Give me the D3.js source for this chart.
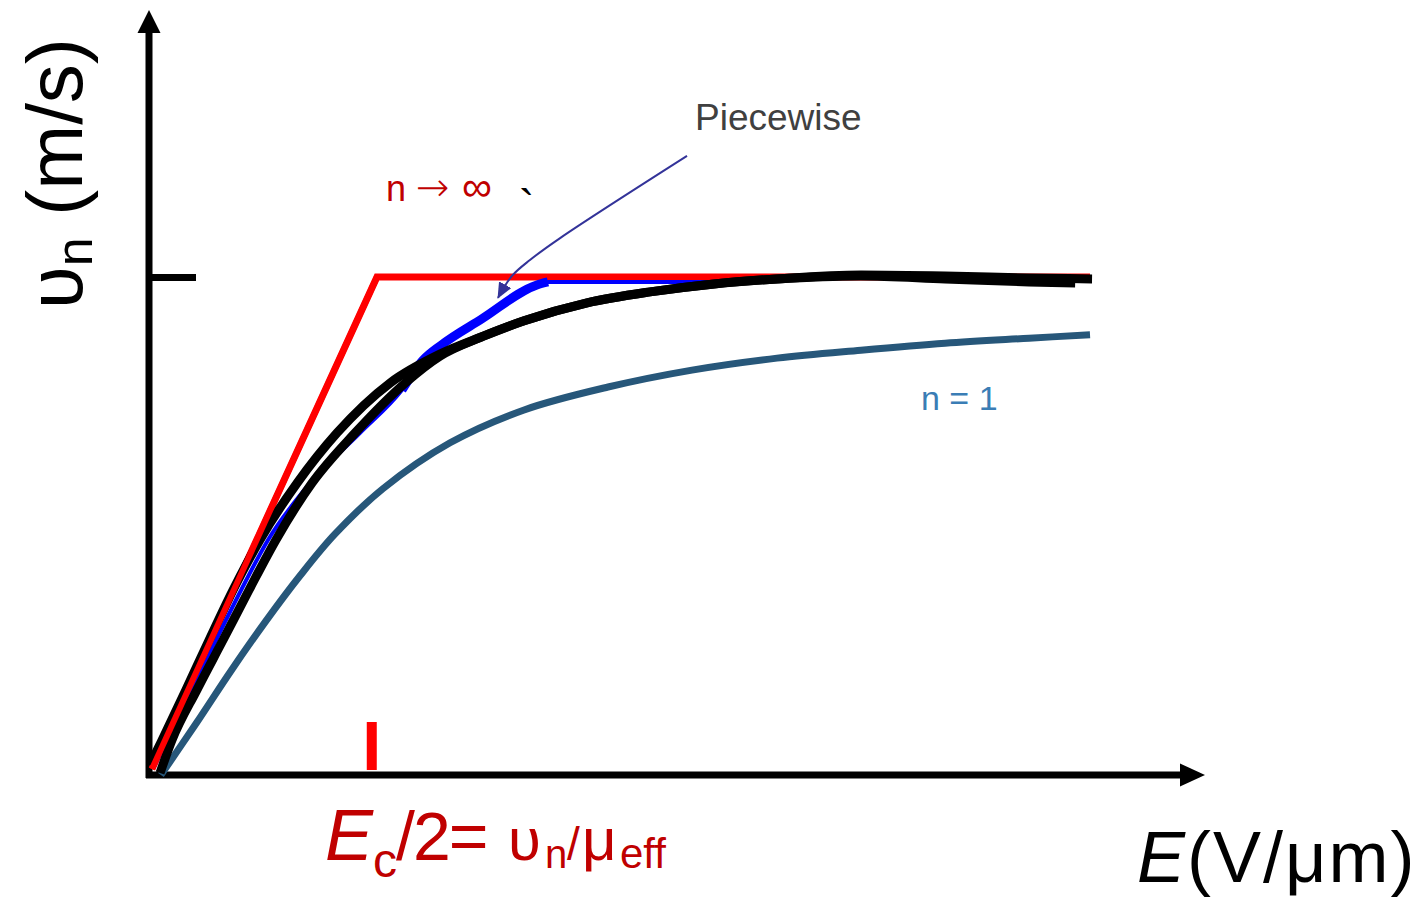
<!DOCTYPE html>
<html>
<head>
<meta charset="utf-8">
<script src="https://cdn.jsdelivr.net/npm/d3@7"></script>
<style>
  html, body { margin: 0; padding: 0; background: #ffffff; }
  svg { display: block; }
  text { font-family: "Liberation Sans", Arial, Helvetica, sans-serif; }
</style>
</head>
<body>
<svg id="chart" width="1422" height="905"></svg>
<script>
// Axis extents (E in units of Ec/2, velocity in units of v_sat)
const eMax = 4.693;
const vMax = 1.536;
const vSat = 1.0;
const ecHalf = 0.99;

// n -> infinity: linear rise, then flat at v_sat
const limitCurve = [[0.013, 0.012], [1.013, 1.0], [4.182, 1.0]];

// Piecewise model
const piecewiseCurve = [
  [0.018, 0.014], [0.080, 0.070], [0.191, 0.171], [0.298, 0.271], [0.409, 0.371],
  [0.529, 0.472], [0.716, 0.586], [0.938, 0.687], [1.124, 0.773], [1.218, 0.833],
  [1.298, 0.863], [1.480, 0.916], [1.724, 0.984], [1.773, 0.990], [2.716, 0.990]
];
const piecewiseBoldSpan = [1.08, 1.775];

// Two smooth saturation models drawn in black
const modelA = [
  [0.004, 0.020], [0.058, 0.070], [0.164, 0.171], [0.267, 0.271], [0.373, 0.371],
  [0.493, 0.472], [0.658, 0.586], [0.836, 0.687], [1.071, 0.787], [1.293, 0.845],
  [1.480, 0.880], [1.667, 0.912], [1.947, 0.948], [2.227, 0.970], [2.511, 0.986],
  [2.791, 0.996], [3.164, 1.002], [3.538, 0.996], [3.911, 0.990], [4.116, 0.988]
];
const modelB = [
  [0.049, 0.004], [0.102, 0.070], [0.213, 0.171], [0.329, 0.271], [0.444, 0.371],
  [0.564, 0.472], [0.724, 0.586], [0.916, 0.687], [1.138, 0.787], [1.293, 0.841],
  [1.480, 0.880], [1.667, 0.912], [1.947, 0.948], [2.227, 0.970], [2.511, 0.986],
  [2.791, 0.996], [3.164, 1.004], [3.538, 1.002], [3.911, 0.998], [4.191, 0.996]
];

// n = 1
const modelN1 = [
  [0.053, 0.000], [0.213, 0.106], [0.364, 0.209], [0.516, 0.307], [0.671, 0.400],
  [0.827, 0.484], [1.040, 0.575], [1.338, 0.667], [1.667, 0.733], [2.040, 0.779],
  [2.413, 0.813], [2.791, 0.837], [3.164, 0.853], [3.538, 0.867], [3.911, 0.877],
  [4.182, 0.884]
];

// Callout leader for the "Piecewise" label
const calloutPath = [[2.391, 1.243], [1.827, 1.078], [1.693, 1.034], [1.613, 1.002], [1.551, 0.958]];

const svg = d3.select("#chart");
const x = d3.scaleLinear().domain([0, eMax]).range([149, 1205]);
const y = d3.scaleLinear().domain([0, vMax]).range([775, 10]);

const smooth = d3.line().x(d => x(d[0])).y(d => y(d[1])).curve(d3.curveMonotoneX);
const rounded = d3.line().x(d => x(d[0])).y(d => y(d[1])).curve(d3.curveCatmullRom.alpha(0.5));
const straight = d3.line().x(d => x(d[0])).y(d => y(d[1]));

// ---- axes ----
const axes = svg.append("g");
axes.append("line")
  .attr("x1", x(0)).attr("x2", x(0))
  .attr("y1", y(0) + 3).attr("y2", y(vMax) + 22)
  .attr("stroke", "#000").attr("stroke-width", 7);
axes.append("path")
  .attr("d", `M${x(0)},${y(vMax)} L${x(0) - 11.5},${y(vMax) + 23} L${x(0) + 11.5},${y(vMax) + 23} Z`)
  .attr("fill", "#000");
axes.append("line")
  .attr("x1", x(0) - 3).attr("x2", x(eMax) - 22)
  .attr("y1", y(0)).attr("y2", y(0))
  .attr("stroke", "#000").attr("stroke-width", 7);
axes.append("path")
  .attr("d", `M${x(eMax)},${y(0)} L${x(eMax) - 25},${y(0) - 11.5} L${x(eMax) - 25},${y(0) + 11.5} Z`)
  .attr("fill", "#000");

// v_sat tick on the vertical axis
const yTick = d3.axisLeft(y).tickValues([vSat]).tickSize(-47).tickSizeOuter(0).tickFormat("");
const yTickG = svg.append("g").attr("transform", `translate(${x(0)},0)`).call(yTick);
yTickG.select(".domain").remove();
yTickG.selectAll(".tick line").attr("stroke", "#000").attr("stroke-width", 7);

// Ec/2 marker on the field axis
svg.append("line")
  .attr("x1", x(ecHalf)).attr("x2", x(ecHalf))
  .attr("y1", y(0) - 5).attr("y2", y(0) - 53)
  .attr("stroke", "#ff0000").attr("stroke-width", 10);

// ---- curves ----
svg.append("path").datum(modelN1).attr("d", rounded)
  .attr("fill", "none").attr("stroke", "#27577a").attr("stroke-width", 7);

svg.append("path").datum(limitCurve).attr("d", straight)
  .attr("fill", "none").attr("stroke", "#ff0000").attr("stroke-width", 7)
  .attr("stroke-linejoin", "miter");

svg.append("path").datum(piecewiseCurve).attr("d", smooth)
  .attr("fill", "none").attr("stroke", "#0000ff").attr("stroke-width", 4);
svg.append("path")
  .datum(piecewiseCurve.filter(d => d[0] >= piecewiseBoldSpan[0] && d[0] <= piecewiseBoldSpan[1]))
  .attr("d", smooth)
  .attr("fill", "none").attr("stroke", "#0000ff").attr("stroke-width", 9);

svg.append("path").datum(modelA).attr("d", smooth)
  .attr("fill", "none").attr("stroke", "#000").attr("stroke-width", 9);
svg.append("path").datum(modelB).attr("d", smooth)
  .attr("fill", "none").attr("stroke", "#000").attr("stroke-width", 9);

// rising edge of the n -> infinity limit stays in front near the origin
svg.append("path").datum(limitCurve.slice(0, 2)).attr("d", straight)
  .attr("fill", "none").attr("stroke", "#ff0000").attr("stroke-width", 6);

// ---- callout ----
const defs = svg.append("defs");
defs.append("marker")
  .attr("id", "callout-head")
  .attr("markerUnits", "userSpaceOnUse")
  .attr("viewBox", "0 0 16 14")
  .attr("refX", 15).attr("refY", 7)
  .attr("markerWidth", 16).attr("markerHeight", 14)
  .attr("orient", "auto")
  .append("path").attr("d", "M0,0 L16,7 L0,14 Z").attr("fill", "#333399");

svg.append("path").datum(calloutPath)
  .attr("d", d3.line().x(d => x(d[0])).y(d => y(d[1])).curve(d3.curveCatmullRom))
  .attr("fill", "none").attr("stroke", "#333399").attr("stroke-width", 2)
  .attr("marker-end", "url(#callout-head)");

svg.append("text").attr("x", 695).attr("y", 130)
  .attr("font-size", 37).attr("fill", "#404040").text("Piecewise");

const limitLabel = svg.append("text").attr("y", 201).attr("fill", "#c00000").attr("font-size", 36);
limitLabel.append("tspan").attr("x", 386).text("n");
limitLabel.append("tspan").attr("x", 416).attr("font-family", "'DejaVu Sans', sans-serif")
  .attr("font-size", 40).attr("font-weight", 300).text("\u2192");
limitLabel.append("tspan").attr("x", 462).attr("font-size", 42).text("\u221E");
svg.append("text").attr("x", 519).attr("y", 222)
  .attr("font-size", 46).attr("fill", "#000").text("`");

svg.append("text").attr("x", 921).attr("y", 410)
  .attr("font-size", 34).attr("fill", "#3a7db5").text("n = 1");

// ---- axis titles ----
const yTitle = svg.append("text")
  .attr("transform", "translate(82,309) rotate(-90)")
  .attr("fill", "#000");
yTitle.append("tspan").attr("font-size", 78).text("\u03C5");
yTitle.append("tspan").attr("font-size", 52).attr("dy", 10).text("n");
yTitle.append("tspan").attr("font-size", 78).attr("dy", -10).text(" (m/s)");

const xTitle = svg.append("text").attr("x", 1137).attr("y", 882).attr("fill", "#000")
  .attr("font-size", 72).attr("letter-spacing", 2);
xTitle.append("tspan").attr("font-style", "italic").text("E");
xTitle.append("tspan").text("(V/\u03BCm)");

const ecLabel = svg.append("text").attr("fill", "#c00000");
ecLabel.append("tspan").attr("x", 325).attr("y", 860).attr("font-size", 72).attr("font-style", "italic").text("E");
ecLabel.append("tspan").attr("x", 373).attr("y", 877).attr("font-size", 48).text("c");
ecLabel.append("tspan").attr("x", 396).attr("y", 860).attr("font-size", 68).attr("letter-spacing", -2).text("/2=");
ecLabel.append("tspan").attr("x", 508).attr("y", 860).attr("font-size", 60).text("\u03C5");
ecLabel.append("tspan").attr("x", 545).attr("y", 868).attr("font-size", 40).text("n");
ecLabel.append("tspan").attr("x", 567).attr("y", 860).attr("font-size", 46).text("/");
ecLabel.append("tspan").attr("x", 582).attr("y", 860).attr("font-size", 60).text("\u03BC");
ecLabel.append("tspan").attr("x", 620).attr("y", 868).attr("font-size", 42).text("eff");
</script>
</body>
</html>
